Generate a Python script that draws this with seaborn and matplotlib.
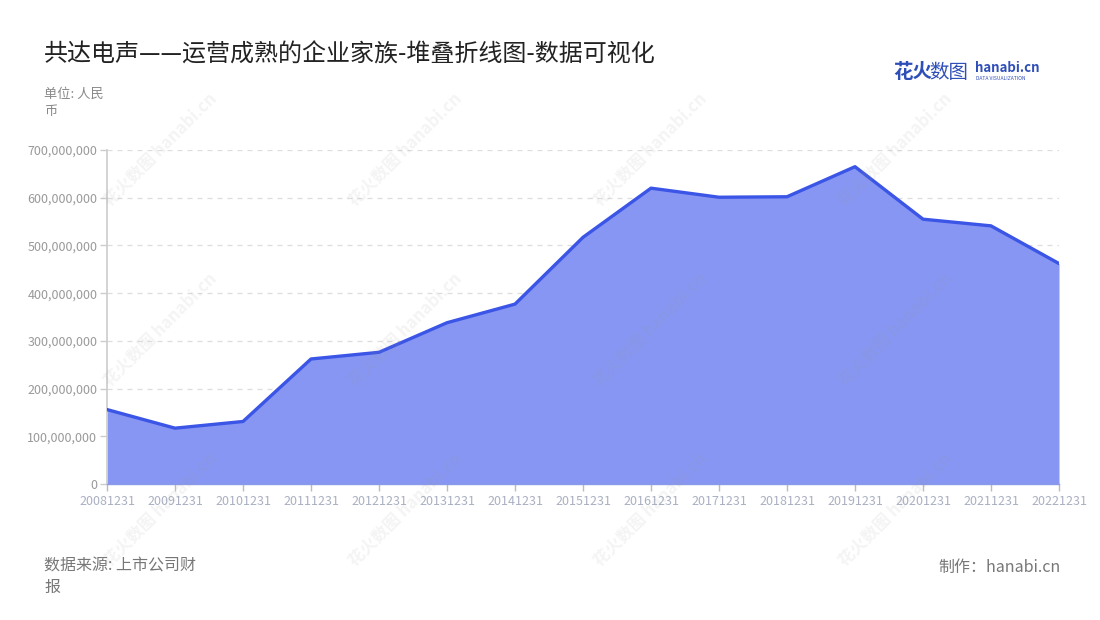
import numpy as np
import pandas as pd
import matplotlib
matplotlib.use("Agg")
import matplotlib.pyplot as plt
import matplotlib.ticker as mticker
import seaborn as sns

# data (RMB)
years = ['20081231', '20091231', '20101231', '20111231', '20121231',
         '20131231', '20141231', '20151231', '20161231', '20171231',
         '20181231', '20191231', '20201231', '20211231', '20221231']
revenue = [156e6, 117e6, 131e6, 262e6, 276e6,
           338e6, 377e6, 517e6, 620e6, 601e6,
           602e6, 665e6, 555e6, 541e6, 462e6]
y_ticks = [0, 100e6, 200e6, 300e6, 400e6, 500e6, 600e6, 700e6]

title = "共达电声——运营成熟的企业家族-堆叠折线图-数据可视化"
unit_text = "单位: 人民\n币"
source_text = "数据来源: 上市公司财\n报"
credit_text = "制作：hanabi.cn"

LINE = "#3b55e6"
FILL = "#8796f2"

sns.set_theme(style="white")
plt.rcParams['font.family'] = ['Noto Sans CJK SC', 'DejaVu Sans']

df = pd.DataFrame({"pos": np.arange(len(years)), "year": years, "value": revenue})

fig = plt.figure(figsize=(11, 6.2), dpi=100)
ax = fig.add_axes([107 / 1100, 1 - 484 / 620, (1059 - 107) / 1100, (484 - 150) / 620])

# dashed grid
for t in y_ticks[1:]:
    ax.axhline(t, color="#dddddd", linestyle=(0, (4, 4)), linewidth=0.9, zorder=0)

ax.fill_between(df["pos"], df["value"], color=FILL, linewidth=0, zorder=1)
sns.lineplot(data=df, x="pos", y="value", color=LINE, linewidth=2.4, ax=ax, zorder=3)

ax.set_xlim(0, len(years) - 1)
ax.set_ylim(0, 700e6)
ax.set_xticks(df["pos"])
ax.set_xticklabels(years)
ax.set_yticks(y_ticks)
ax.yaxis.set_major_formatter(mticker.FuncFormatter(lambda v, p: f"{int(v):,}"))
ax.set_xlabel("")
ax.set_ylabel("")

for s in ["top", "right"]:
    ax.spines[s].set_visible(False)
ax.spines["left"].set_color("#cccccc")
ax.spines["left"].set_linewidth(1.2)
ax.spines["bottom"].set_color("#8a9ae6")
ax.spines["bottom"].set_linewidth(1.0)
ax.tick_params(axis="y", colors="#cccccc", labelcolor="#999999", labelsize=9,
               length=5, width=1, pad=2, left=True)
ax.tick_params(axis="x", colors="#bbbbbb", labelcolor="#aab0c2", labelsize=9,
               length=5, width=1, pad=3, bottom=True)

# watermark
for wx in [160, 405, 650, 895]:
    for wy in [150, 330, 510]:
        fig.text(wx / 1100, 1 - wy / 620, "花火数图 hanabi.cn", rotation=45,
                 ha="center", va="center", fontsize=12, fontweight="bold",
                 color="#9a9a9a", alpha=0.11, zorder=5)

# titles and notes
fig.text(44 / 1100, 1 - 55 / 620, title, fontsize=17.3, color="#222222",
         ha="left", va="center")
fig.text(44 / 1100, 1 - 88 / 620, unit_text, fontsize=9.5, color="#888888",
         ha="left", va="top", linespacing=1.45)
fig.text(44 / 1100, 1 - 557 / 620, source_text, fontsize=11.5, color="#777777",
         ha="left", va="top", linespacing=1.4)
fig.text(1061 / 1100, 1 - 567 / 620, credit_text, fontsize=11.5, color="#777777",
         ha="right", va="center")

# logo
fig.text(893 / 1100, 1 - 72 / 620, "花火", fontsize=14, fontweight="bold",
         color="#2f4fb8", ha="left", va="center")
fig.text(929 / 1100, 1 - 72 / 620, "数图", fontsize=14, color="#2f4fb8",
         ha="left", va="center")
fig.text(975 / 1100, 1 - 68 / 620, "hanabi.cn", fontsize=9.5, fontweight="bold",
         color="#2f4fb8", ha="left", va="center")
fig.text(976 / 1100, 1 - 79 / 620, "DATA VISUALIZATION", fontsize=3.6,
         color="#2f4fb8", ha="left", va="center")

fig.savefig("out.png", dpi=100)
